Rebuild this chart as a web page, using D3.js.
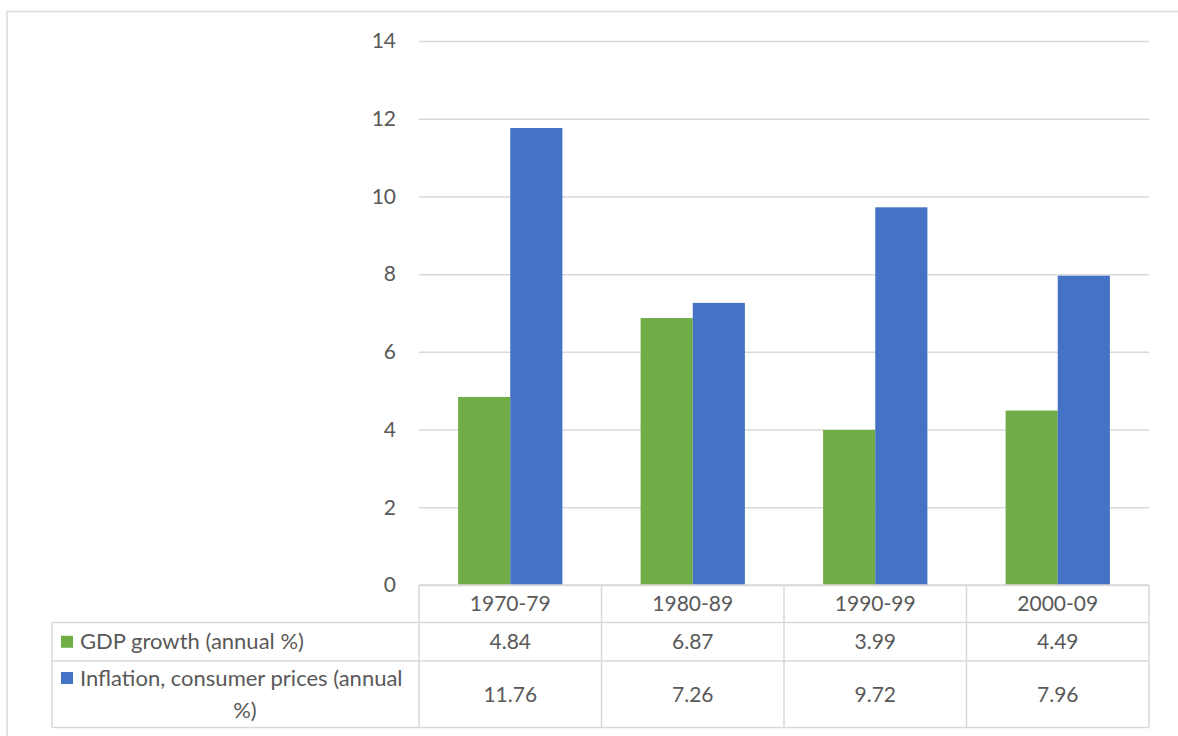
<!DOCTYPE html>
<html>
<head>
<meta charset="utf-8">
<script src="https://cdn.jsdelivr.net/npm/d3@7"></script>
<style>
  html, body { margin: 0; padding: 0; background: #fff; }
  svg { display: block; }
  text { font-family: Lato, "Open Sans", sans-serif; fill: #595959; }
</style>
</head>
<body>
<svg id="chart" width="1178" height="736"></svg>
<script>
// Decade periods and the two series shown as clustered columns
const categories = ["1970-79", "1980-89", "1990-99", "2000-09"];
const seriesNames = ["GDP growth (annual %)", "Inflation, consumer prices (annual %)"];
const gdpGrowth = [4.84, 6.87, 3.99, 4.49];
const inflation = [11.76, 7.26, 9.72, 7.96];
const yTicks = [0, 2, 4, 6, 8, 10, 12, 14];
const colors = ["#70ad47", "#4472c4"];

const series = [gdpGrowth, inflation];
const svg = d3.select("#chart");
const gridColor = "#d9d9d9";
const numFont = "21px";
const labelFont = "22px";

// Plot area geometry
const plot = { left: 419, right: 1149, top: 41, bottom: 585 };
const tableLeft = 52;
const rowEdges = [585, 622.5, 661, 727.5];

// Outer chart frame
svg.append("rect")
  .attr("x", 7).attr("y", 11.5)
  .attr("width", 1300).attr("height", 900)
  .attr("fill", "none").attr("stroke", gridColor).attr("stroke-width", 1.5);

const x = d3.scaleBand().domain(categories).range([plot.left, plot.right]).paddingInner(0).paddingOuter(0);
// Gap width of 150%: two bars + 1.5 bar widths of gap per category
const barW = x.bandwidth() / 3.5;
const xs = d3.scaleBand().domain(d3.range(series.length)).range([0, barW * 2]);

const y = d3.scaleLinear().domain([0, 14]).range([plot.bottom, plot.top]);

// Gridlines and labels via a left axis
const yAxis = d3.axisLeft(y).tickValues(yTicks).tickSize(-(plot.right - plot.left)).tickPadding(23);
const gy = svg.append("g").attr("transform", `translate(${plot.left},0)`).call(yAxis);
gy.select(".domain").remove();
gy.selectAll(".tick line").attr("stroke", gridColor).attr("stroke-width", 1.5);
gy.selectAll(".tick text")
  .attr("fill", "#595959")
  .style("font-family", "Lato, 'Open Sans', sans-serif")
  .style("font-size", numFont);

// Columns
series.forEach((vals, si) => {
  svg.append("g").selectAll("rect")
    .data(vals)
    .join("rect")
    .attr("x", (d, i) => x(categories[i]) + (x.bandwidth() - barW * 2) / 2 + xs(si))
    .attr("y", d => y(d))
    .attr("width", barW)
    .attr("height", d => y(0) - y(d))
    .attr("fill", colors[si]);
});

// Data table beneath the plot
const tbl = svg.append("g");
const lineStyle = sel => sel.attr("stroke", gridColor).attr("stroke-width", 1.5).attr("fill", "none");

// Horizontal rules
tbl.append("line").attr("x1", plot.left).attr("x2", plot.right).attr("y1", rowEdges[0]).attr("y2", rowEdges[0]).call(lineStyle);
rowEdges.slice(1).forEach(yy => {
  tbl.append("line").attr("x1", tableLeft).attr("x2", plot.right).attr("y1", yy).attr("y2", yy).call(lineStyle);
});
// Vertical rules
tbl.append("line").attr("x1", tableLeft).attr("x2", tableLeft).attr("y1", rowEdges[1]).attr("y2", rowEdges[3]).call(lineStyle);
categories.forEach(c => {
  tbl.append("line").attr("x1", x(c)).attr("x2", x(c)).attr("y1", rowEdges[0]).attr("y2", rowEdges[3]).call(lineStyle);
});
tbl.append("line").attr("x1", plot.right).attr("x2", plot.right).attr("y1", rowEdges[0]).attr("y2", rowEdges[3]).call(lineStyle);

// Category header row
tbl.selectAll("text.cat")
  .data(categories)
  .join("text")
  .attr("class", "cat")
  .attr("x", d => x(d) + x.bandwidth() / 2)
  .attr("y", (rowEdges[0] + rowEdges[1]) / 2)
  .attr("dy", "0.35em")
  .attr("text-anchor", "middle")
  .style("font-size", numFont)
  .text(d => d);

// Value rows
const rowCenters = [(rowEdges[1] + rowEdges[2]) / 2, (rowEdges[2] + rowEdges[3]) / 2];
series.forEach((vals, si) => {
  tbl.append("g").selectAll("text")
    .data(vals)
    .join("text")
    .attr("x", (d, i) => x(categories[i]) + x.bandwidth() / 2)
    .attr("y", rowCenters[si])
    .attr("dy", "0.35em")
    .attr("text-anchor", "middle")
    .style("font-size", numFont)
    .text(d => d.toFixed(2));
});

// Legend keys and series names in the first column
const keyX = 61, textX = 80;
tbl.append("rect").attr("x", keyX).attr("y", rowCenters[0] - 6).attr("width", 12).attr("height", 12).attr("fill", colors[0]);
tbl.append("text").attr("x", textX).attr("y", rowCenters[0]).attr("dy", "0.35em")
  .style("font-size", labelFont).text(seriesNames[0]);

const line1Y = 678, line2Y = 710;
tbl.append("rect").attr("x", keyX).attr("y", line1Y - 6).attr("width", 12).attr("height", 12).attr("fill", colors[1]);
tbl.append("text").attr("x", textX).attr("y", line1Y).attr("dy", "0.35em")
  .style("font-size", labelFont).text("Inflation, consumer prices (annual");
tbl.append("text").attr("x", 245).attr("y", line2Y).attr("dy", "0.35em")
  .attr("text-anchor", "middle")
  .style("font-size", labelFont).text("%)");
</script>
</body>
</html>
